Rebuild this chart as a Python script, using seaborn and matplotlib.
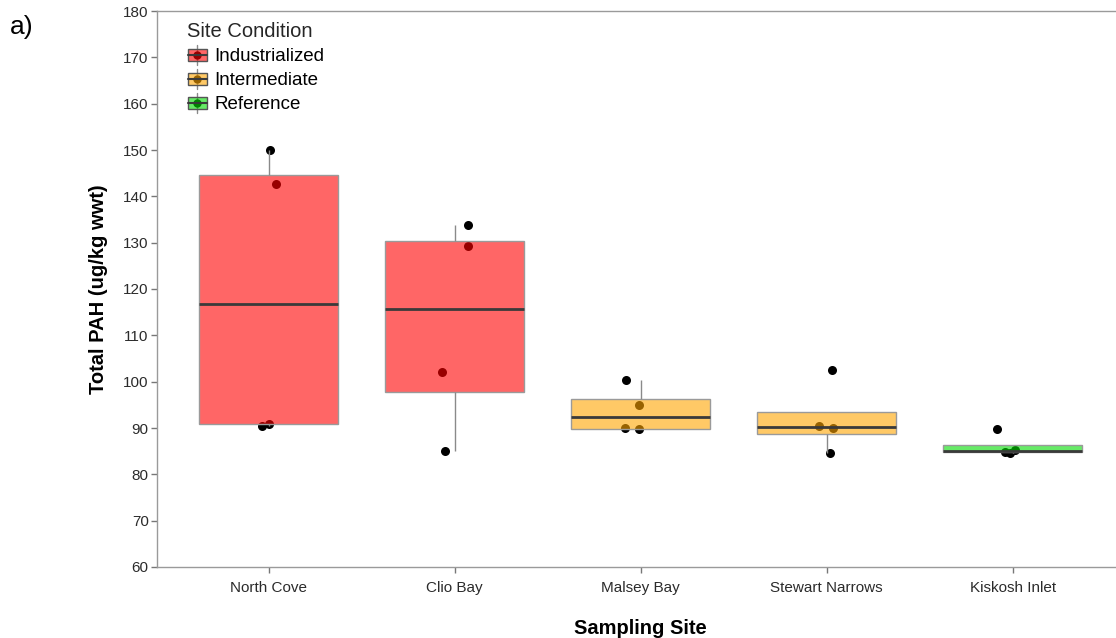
import numpy as np
import pandas as pd
import matplotlib
matplotlib.use("Agg")
import matplotlib.pyplot as plt
from matplotlib.patches import Rectangle
from matplotlib.lines import Line2D
from matplotlib.legend_handler import HandlerBase
from matplotlib.colors import to_rgba
import seaborn as sns

# Sampling sites and their condition class
sites = ["North Cove", "Clio Bay", "Malsey Bay", "Stewart Narrows", "Kiskosh Inlet"]
conditions = ["Industrialized", "Industrialized", "Intermediate", "Intermediate", "Reference"]

# Total PAH (ug/kg wwt) per replicate sample
north_cove = [150.0, 142.7, 90.4, 90.9]
clio_bay = [133.8, 129.3, 102.1, 85.0]
malsey_bay = [100.3, 95.0, 89.9, 89.7]
stewart_narrows = [102.5, 90.4, 89.9, 84.7]
kiskosh_inlet = [89.8, 85.2, 84.9, 84.7]

condition_order = ["Industrialized", "Intermediate", "Reference"]
condition_colors = {"Industrialized": "#FF0000", "Intermediate": "#FFA500", "Reference": "#00DD00"}
box_alpha = 0.6

y_ticks = list(range(60, 181, 10))

series = [north_cove, clio_bay, malsey_bay, stewart_narrows, kiskosh_inlet]
rows = []
for site, cond, vals in zip(sites, conditions, series):
    for v in vals:
        rows.append({"Site": site, "Condition": cond, "PAH": v})
df = pd.DataFrame(rows)

sns.set_theme(style="white")
plt.rcParams["font.family"] = ["Liberation Sans", "DejaVu Sans"]

fig = plt.figure(figsize=(11.16, 6.38), dpi=100)
ax = fig.add_axes([157 / 1116, 1 - 567 / 638, 967.2 / 1116, 556 / 638])

# raw samples first, boxes are laid semi-transparently over them
np.random.seed(3)
sns.stripplot(data=df, x="Site", y="PAH", order=sites, color="black", size=6.5,
              jitter=0.09, linewidth=0, ax=ax, zorder=2)

sns.boxplot(data=df, x="Site", y="PAH", order=sites, hue="Condition",
            hue_order=condition_order, palette=condition_colors, dodge=False,
            saturation=1, width=0.75, showfliers=False, showcaps=False,
            whis=1.5, legend=False, ax=ax,
            boxprops={"edgecolor": "#9a9a9a", "linewidth": 1.0},
            whiskerprops={"color": "#8a8a8a", "linewidth": 1.0},
            medianprops={"color": "#3a3a3a", "linewidth": 2.0})

for patch in ax.patches:
    fc = patch.get_facecolor()
    patch.set_facecolor(to_rgba(fc[:3], box_alpha))
    patch.set_zorder(3)
for line in ax.lines:
    line.set_zorder(4)

ax.set_xlim(-0.6, 4.6)
ax.set_ylim(60, 180)
ax.set_yticks(y_ticks)
ax.set_yticklabels([str(t) for t in y_ticks])

for side in ["left", "bottom", "top"]:
    ax.spines[side].set_visible(True)
    ax.spines[side].set_color("#9a9a9a")
    ax.spines[side].set_linewidth(1.0)
ax.spines["right"].set_visible(False)

ax.tick_params(axis="both", which="both", direction="out", length=4, width=1,
               color="#777777", labelsize=11, labelcolor="#2b2b2b",
               left=True, bottom=True)
ax.tick_params(axis="x", pad=6)
ax.tick_params(axis="y", pad=2)

ax.set_xlabel("Sampling Site", fontsize=14.5, fontweight="bold", color="black", labelpad=17)
ax.set_ylabel("Total PAH (ug/kg wwt)", fontsize=14.5, fontweight="bold", color="black", labelpad=11)


class BoxKeyHandler(HandlerBase):
    """Draws a miniature box-with-point glyph as a legend key."""

    def __init__(self, color):
        super().__init__()
        self.color = color

    def create_artists(self, legend, orig_handle, xdescent, ydescent, width, height,
                       fontsize, trans):
        cx = width / 2 - xdescent
        cy = height / 2 - ydescent
        bw, bh = width * 0.95, height * 0.72
        whisker = Line2D([cx, cx], [cy - height * 0.62, cy + height * 0.62],
                         color="#8a8a8a", lw=1.0, transform=trans)
        box = Rectangle((cx - bw / 2, cy - bh / 2), bw, bh,
                        facecolor=to_rgba(self.color, box_alpha),
                        edgecolor="#555555", lw=1.0, transform=trans)
        median = Line2D([cx - bw / 2, cx + bw / 2], [cy, cy], color="#3a3a3a",
                        lw=1.5, transform=trans)
        dot = Line2D([cx], [cy], marker="o", markersize=6, color="black",
                     markeredgewidth=0, transform=trans)
        return [whisker, dot, box, median]


handles = [Rectangle((0, 0), 1, 1) for _ in condition_order]
handler_map = {h: BoxKeyHandler(condition_colors[c]) for h, c in zip(handles, condition_order)}
leg = ax.legend(handles, condition_order, title="Site Condition", handler_map=handler_map,
                loc="upper left", bbox_to_anchor=(172 / 1116, 1 - 7 / 638),
                bbox_transform=fig.transFigure, frameon=False, fontsize=13.5,
                title_fontsize=14.5, handlelength=1.1, handleheight=0.95,
                handletextpad=0.35, labelspacing=0.3, borderpad=0.3)
leg._legend_box.align = "left"
leg.set_zorder(10)
for txt in leg.get_texts():
    txt.set_color("black")

fig.text(10 / 1116, 1 - 27 / 638, "a)", fontsize=19, ha="left", va="center", color="black")

fig.savefig("out.png", dpi=100)
